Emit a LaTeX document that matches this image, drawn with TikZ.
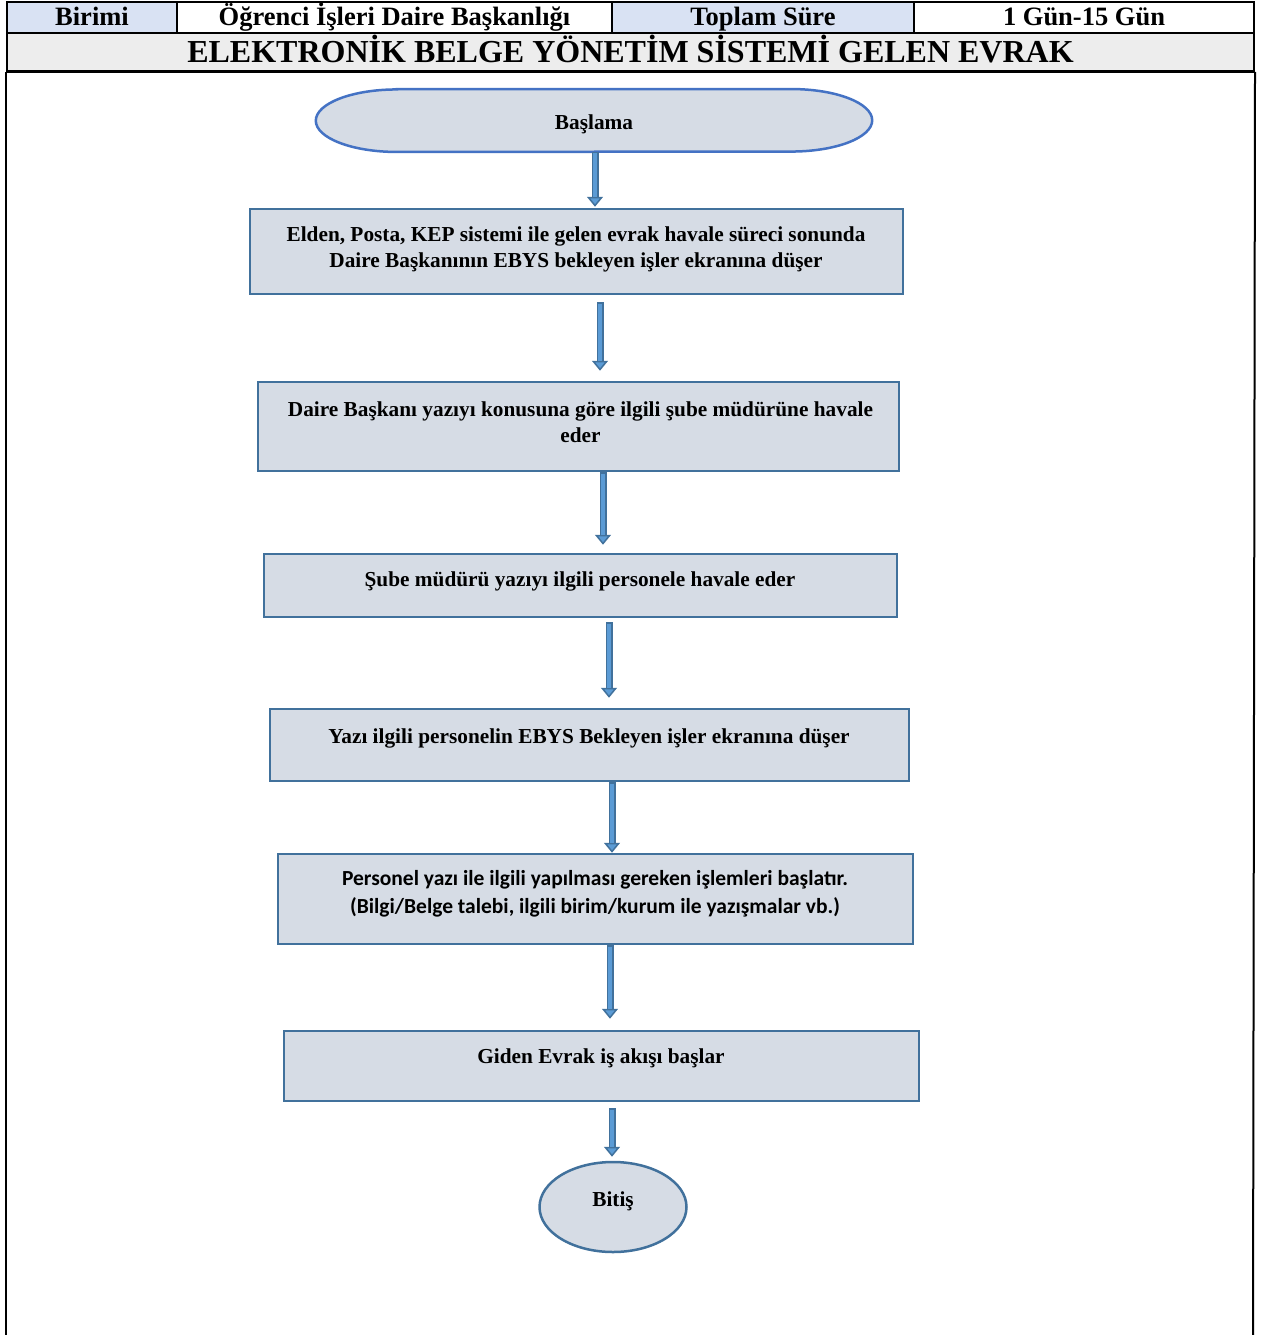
\documentclass[tikz,border=0pt]{standalone}
\usepackage{fontspec}
\setmainfont{Liberation Serif}
\newfontfamily\calfont{Carlito}
\usetikzlibrary{arrows.meta,shapes.geometric}
\definecolor{headblue}{HTML}{D9E2F3}
\definecolor{titlegray}{HTML}{EDEDED}
\definecolor{fillc}{HTML}{D6DCE5}
\definecolor{boxborder}{HTML}{41719C}
\definecolor{ellborder}{HTML}{4472C4}
\definecolor{arrowdark}{HTML}{41719C}
\definecolor{arrowlight}{HTML}{5B9BD5}
\begin{document}
\begin{tikzpicture}[x=1pt,y=-1pt,
  hcell/.style={draw=black,line width=2pt,inner sep=0pt,anchor=north west,
    text height=19pt,text depth=3pt,
    font=\fontsize{26.5}{30}\selectfont\bfseries},
  box/.style={draw=boxborder,line width=2.5pt,fill=fillc,inner sep=0pt},
  term/.style={ellipse,draw=ellborder,line width=2.5pt,fill=fillc,inner sep=0pt},
  txt/.style={font=\fontsize{21.3}{26}\selectfont\bfseries,align=center,inner sep=0pt},
  ctxt/.style={font=\fontsize{21.5}{28}\selectfont\calfont\bfseries,align=center,inner sep=0pt},
  flow/.style={line width=7pt,draw=arrowdark,
    -{Triangle[width=16pt,length=10pt,fill=arrowlight,line width=1.5pt]},
    postaction={draw=arrowlight,line width=3.2pt,-,shorten >=10pt,shorten <=1.5pt}}
]
\useasboundingbox (0,0) rectangle (1262,1335);
\fill[white] (0,0) rectangle (1262,1335);

% header
\node[hcell,fill=headblue,minimum width=170pt,minimum height=31pt] (h1) at (6,1) {Birimi};
\node[hcell,fill=white,minimum width=435pt,minimum height=31pt] (h2) at (176,1) {Öğrenci İşleri Daire Başkanlığı};
\node[hcell,fill=headblue,minimum width=302pt,minimum height=31pt] (h3) at (611,1) {Toplam Süre};
\node[hcell,fill=white,minimum width=340pt,minimum height=31pt] (h4) at (913,1) {1 Gün-15 Gün};
\node[hcell,fill=titlegray,minimum width=1247pt,minimum height=38pt,text height=26pt,text depth=4pt,
  font=\fontsize{32}{36}\selectfont\bfseries] (title) at (6,32) {ELEKTRONİK BELGE YÖNETİM SİSTEMİ GELEN EVRAK};
\draw[line width=3pt] (title.south west) -- (title.south east);
\draw[line width=2pt] (title.south west) -- (6,1335);
\draw[line width=2pt] (title.south east) -- (1253,1335);

% start terminator (flat top, elliptical ends)
\node[inner sep=0pt,minimum width=556pt,minimum height=62.5pt] (start) at (594,120.5) {};
\draw[draw=ellborder,line width=2.5pt,fill=fillc]
  ([xshift=81pt]start.north west) -- ([xshift=-81pt]start.north east)
  arc[start angle=90,end angle=-90,x radius=81pt,y radius=31.25pt]
  -- ([xshift=81pt]start.south west)
  arc[start angle=270,end angle=90,x radius=81pt,y radius=31.25pt] -- cycle;
\node[txt] (tstart) at (594,124) {Başlama};

\node[box,minimum width=653pt,minimum height=85pt] (b1) at (576.5,251.5) {};
\node[txt] (t1) at (576,249) {Elden, Posta, KEP sistemi ile gelen evrak havale süreci sonunda\\Daire Başkanının EBYS bekleyen işler ekranına düşer};

\node[box,minimum width=641pt,minimum height=89pt] (b2) at (578.5,426.5) {};
\node[txt] (t2) at (580.5,422.5) {Daire Başkanı yazıyı konusuna göre ilgili şube müdürüne havale\\eder};

\node[box,minimum width=633pt,minimum height=63pt] (b3) at (580.5,585.5) {};
\node[txt] (t3) at (580,581) {Şube müdürü yazıyı ilgili personele havale eder};

\node[box,minimum width=639pt,minimum height=72pt] (b4) at (589.5,745) {};
\node[txt] (t4) at (589,738) {Yazı ilgili personelin EBYS Bekleyen işler ekranına düşer};

\node[box,minimum width=635pt,minimum height=90pt] (b5) at (595.5,899) {};
\node[ctxt] (t5) at (595,894) {Personel yazı ile ilgili yapılması gereken işlemleri başlatır.\\(Bilgi/Belge talebi, ilgili birim/kurum ile yazışmalar vb.)};

\node[box,minimum width=635pt,minimum height=70pt] (b6) at (601.5,1066) {};
\node[txt] (t6) at (601,1058) {Giden Evrak iş akışı başlar};

\node[term,draw=boxborder,minimum width=147pt,minimum height=90pt] (end) at (613,1207) {};
\node[txt] (tend) at (613,1201) {Bitiş};

% connectors
\draw[flow] ([xshift=1pt]start.south) -- ([xshift=18.5pt,yshift=1pt]b1.north);
\draw[flow] ([xshift=23.5pt,yshift=-7pt]b1.south) -- ([xshift=21.5pt,yshift=10pt]b2.north);
\draw[flow] ([xshift=24.5pt]b2.south) -- ([xshift=22.5pt,yshift=8pt]b3.north);
\draw[flow] ([xshift=28.5pt,yshift=-4pt]b3.south) -- ([xshift=19.5pt,yshift=10pt]b4.north);
\draw[flow] ([xshift=22.5pt]b4.south) -- ([xshift=16.5pt]b5.north);
\draw[flow] ([xshift=14.5pt]b5.south) -- ([xshift=8.5pt,yshift=11pt]b6.north);
\draw[flow] ([xshift=10.5pt,yshift=-6pt]b6.south) -- ([xshift=-1pt,yshift=4pt]end.north);
\end{tikzpicture}
\end{document}
